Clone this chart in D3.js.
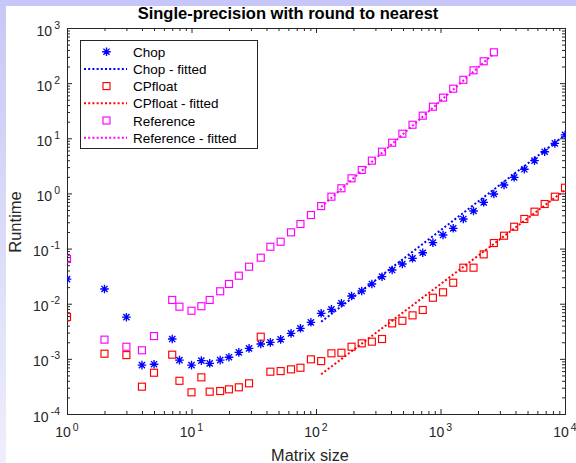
<!DOCTYPE html>
<html><head><meta charset="utf-8">
<script src="https://cdn.jsdelivr.net/npm/d3@7"></script>
<style>
body{margin:0;background:#fff;}
svg{display:block;font-family:"Liberation Sans",Arial,Helvetica,sans-serif;}
</style>
</head><body>
<svg id="chart" width="576" height="463"></svg>
<script>
// ---------- data ----------
const sizes = [1,2,3,4,5,7,8,10,12,14,17,20,24,29,36,43,52,63,75,91,110,133,160,193,233,281,339,409,494,596,720,869,1048,1265,1526,1842,2223,2683,3237,3907,4715,5690,6866,8286,10000];
const refSizes = [1,2,3,4,5,7,8,10,12,14,17,20,24,29,36,43,52,63,75,91,110,133,160,193,233,281,339,409,494,596,720,869,1048,1265,1526,1842,2223,2683];
const chop = [0.028,0.0185,0.0057,0.00077,0.00080,0.00229,0.00095,0.00077,0.00093,0.00083,0.00095,0.00107,0.00131,0.00155,0.00186,0.00199,0.00226,0.0029,0.00358,0.0046,0.0067,0.0079,0.0102,0.0138,0.017,0.0228,0.0309,0.0408,0.0525,0.0666,0.084,0.128,0.176,0.233,0.344,0.48,0.69,0.977,1.42,1.96,2.74,3.93,5.7,8.1,11.5];
const cpfloat = [0.00574,0.00124,0.00117,0.000313,0.00056,0.00119,0.00040,0.000247,0.000462,0.000254,0.000261,0.00028,0.000305,0.00036,0.00252,0.000585,0.0006,0.000645,0.00069,0.00098,0.00091,0.00126,0.00129,0.00166,0.00191,0.00205,0.00229,0.0044,0.0049,0.00615,0.0077,0.01285,0.0161,0.024,0.045,0.045,0.0785,0.126,0.171,0.249,0.344,0.467,0.643,0.873,1.27];
const reference = [0.0647,0.00223,0.00166,0.00143,0.00259,0.0117,0.00883,0.00746,0.0090,0.0117,0.0168,0.0228,0.0322,0.0469,0.0683,0.108,0.133,0.197,0.279,0.406,0.59,0.873,1.24,1.88,2.66,3.93,5.71,8.3,12.1,17.6,25.7,37.4,54.5,79.3,115,171,249,362];
const chopFitX = [110,10000];
const chopFitY = [0.0047,11.5];
const cpfloatFitX = [110,10000];
const cpfloatFitY = [0.000525,1.15];
const referenceFitX = [110,2683];
const referenceFitY = [0.57,345];
const xTickExps = [0,1,2,3,4];
const yTickExps = [-4,-3,-2,-1,0,1,2,3];
const legendLabels = ["Chop","Chop - fitted","CPfloat","CPfloat - fitted","Reference","Reference - fitted"];
const titleText = "Single-precision with round to nearest";
const xLabel = "Matrix size";
const yLabel = "Runtime";

// ---------- setup ----------
const svg = d3.select("#chart");
const W = 576, H = 463;
const L = 67, R = 565, T = 28, B = 414;
const axisColor = "#262626";
const BLUE = "#0000ff", RED = "#ff0000", MAG = "#ff00ff";

// frame background
const defs = svg.append("defs");
const grad = defs.append("linearGradient").attr("id","lg").attr("x1",0).attr("y1",0).attr("x2",0).attr("y2",1);
grad.append("stop").attr("offset","0%").attr("stop-color","#c8c8f6");
grad.append("stop").attr("offset","100%").attr("stop-color","#eeeefb");
svg.append("rect").attr("width",W).attr("height",H).attr("fill","#ffffff");
svg.append("rect").attr("x",0).attr("y",6).attr("width",6).attr("height",H-6).attr("fill","url(#lg)");
svg.append("rect").attr("x",0).attr("y",0).attr("width",W).attr("height",6).attr("fill","#c6c6f9");

const x = d3.scaleLog().domain([1,1e4]).range([L,R]);
const y = d3.scaleLog().domain([1e-4,1e3]).range([B,T]);

const majX = xTickExps.map(e=>Math.pow(10,e));
const majY = yTickExps.map(e=>Math.pow(10,e));
function minors(lo,hi){const a=[];for(let d=lo;d<hi;d++){for(let k=2;k<=9;k++)a.push(k*Math.pow(10,d));}return a;}
const minX = minors(0,4), minY = minors(-4,3);

// plot clip
defs.append("clipPath").attr("id","clip").append("rect").attr("x",L).attr("y",T).attr("width",R-L+1).attr("height",B-T+1);

// axes ticks (inward)
function styleAxis(g){g.select(".domain").remove();g.selectAll("line").attr("stroke",axisColor);g.selectAll("text").remove();}
svg.append("g").attr("transform",`translate(0,${B})`).call(d3.axisBottom(x).tickValues(majX).tickSize(-5).tickSizeOuter(0)).call(styleAxis);
svg.append("g").attr("transform",`translate(0,${B})`).call(d3.axisBottom(x).tickValues(minX).tickSize(-3).tickSizeOuter(0)).call(styleAxis);
svg.append("g").attr("transform",`translate(0,${T})`).call(d3.axisTop(x).tickValues(majX).tickSize(-5).tickSizeOuter(0)).call(styleAxis);
svg.append("g").attr("transform",`translate(0,${T})`).call(d3.axisTop(x).tickValues(minX).tickSize(-3).tickSizeOuter(0)).call(styleAxis);
svg.append("g").attr("transform",`translate(${L},0)`).call(d3.axisLeft(y).tickValues(majY).tickSize(-5).tickSizeOuter(0)).call(styleAxis);
svg.append("g").attr("transform",`translate(${L},0)`).call(d3.axisLeft(y).tickValues(minY).tickSize(-3).tickSizeOuter(0)).call(styleAxis);
svg.append("g").attr("transform",`translate(${R},0)`).call(d3.axisRight(y).tickValues(majY).tickSize(-5).tickSizeOuter(0)).call(styleAxis);
svg.append("g").attr("transform",`translate(${R},0)`).call(d3.axisRight(y).tickValues(minY).tickSize(-3).tickSizeOuter(0)).call(styleAxis);

// box
svg.append("rect").attr("x",L+0.5).attr("y",T+0.5).attr("width",R-L).attr("height",B-T)
  .attr("fill","none").attr("stroke",axisColor).attr("stroke-width",1);

// tick labels
xTickExps.forEach(e=>{
  const t = svg.append("text").attr("x",x(Math.pow(10,e))).attr("y",437).attr("text-anchor","middle").attr("fill",axisColor);
  t.append("tspan").attr("font-size","14px").text("10");
  t.append("tspan").attr("font-size","10.5px").attr("dx","2").attr("dy","-6").text(String(e));
});
yTickExps.forEach(e=>{
  const t = svg.append("text").attr("x",60).attr("y",y(Math.pow(10,e))+7.5).attr("text-anchor","end").attr("fill",axisColor);
  t.append("tspan").attr("font-size","14px").text("10");
  t.append("tspan").attr("font-size","10.5px").attr("dx","2").attr("dy","-7").text(String(e));
});

// labels
svg.append("text").attr("x",288).attr("y",19).attr("text-anchor","middle").attr("font-weight","bold").attr("font-size","16.5px").attr("fill","#000").text(titleText);
svg.append("text").attr("x",310).attr("y",461).attr("text-anchor","middle").attr("font-size","16.3px").attr("fill",axisColor).text(xLabel);
svg.append("text").attr("transform","translate(21,222) rotate(-90)").attr("text-anchor","middle").attr("font-size","16.5px").attr("fill",axisColor).text(yLabel);

// marks
const plot = svg.append("g").attr("clip-path","url(#clip)");
const line = d3.line().x(d=>x(d[0])).y(d=>y(d[1]));
function fitLine(xs,ys,color){
  plot.append("path").datum(xs.map((v,i)=>[v,ys[i]])).attr("d",line)
    .attr("fill","none").attr("stroke",color).attr("stroke-width",2).attr("stroke-dasharray","2,2.2");
}
function star(g,cx,cy,color){
  const r=4.3, q=r*0.72;
  const p=`M${cx-r},${cy}L${cx+r},${cy}M${cx},${cy-r}L${cx},${cy+r}M${cx-q},${cy-q}L${cx+q},${cy+q}M${cx-q},${cy+q}L${cx+q},${cy-q}`;
  g.append("path").attr("d",p).attr("stroke",color).attr("stroke-width",1.35).attr("fill","none");
}
function squares(xs,ys,color){
  plot.append("g").selectAll("rect").data(xs.map((v,i)=>[v,ys[i]])).join("rect")
    .attr("x",d=>x(d[0])-3.5).attr("y",d=>y(d[1])-3.5).attr("width",7).attr("height",7)
    .attr("fill","none").attr("stroke",color).attr("stroke-width",1.15);
}
squares(refSizes,reference,MAG);
fitLine(referenceFitX,referenceFitY,MAG);
const sg = plot.append("g");
sizes.forEach((v,i)=>star(sg,x(v),y(chop[i]),BLUE));
fitLine(chopFitX,chopFitY,BLUE);
squares(sizes,cpfloat,RED);
fitLine(cpfloatFitX,cpfloatFitY,RED);

// legend
const lg = svg.append("g");
lg.append("rect").attr("x",80.5).attr("y",40.5).attr("width",177).attr("height",108).attr("fill","#fff").attr("stroke",axisColor);
const rowY0 = 51.7, rowDy = 17.2;
const legStyles = [["star",BLUE],["line",BLUE],["sq",RED],["line",RED],["sq",MAG],["line",MAG]];
legendLabels.forEach((lab,i)=>{
  const cy = rowY0 + i*rowDy;
  const [kind,col] = legStyles[i];
  if(kind==="star") star(lg,106.5,cy,col);
  else if(kind==="sq") lg.append("rect").attr("x",103).attr("y",cy-3.5).attr("width",7).attr("height",7).attr("fill","none").attr("stroke",col).attr("stroke-width",1.15);
  else lg.append("line").attr("x1",84).attr("x2",127).attr("y1",cy).attr("y2",cy).attr("stroke",col).attr("stroke-width",2).attr("stroke-dasharray","2,2.2");
  lg.append("text").attr("x",133).attr("y",cy+5).attr("font-size","13.5px").attr("fill","#000").text(lab);
});
</script>
</body></html>
